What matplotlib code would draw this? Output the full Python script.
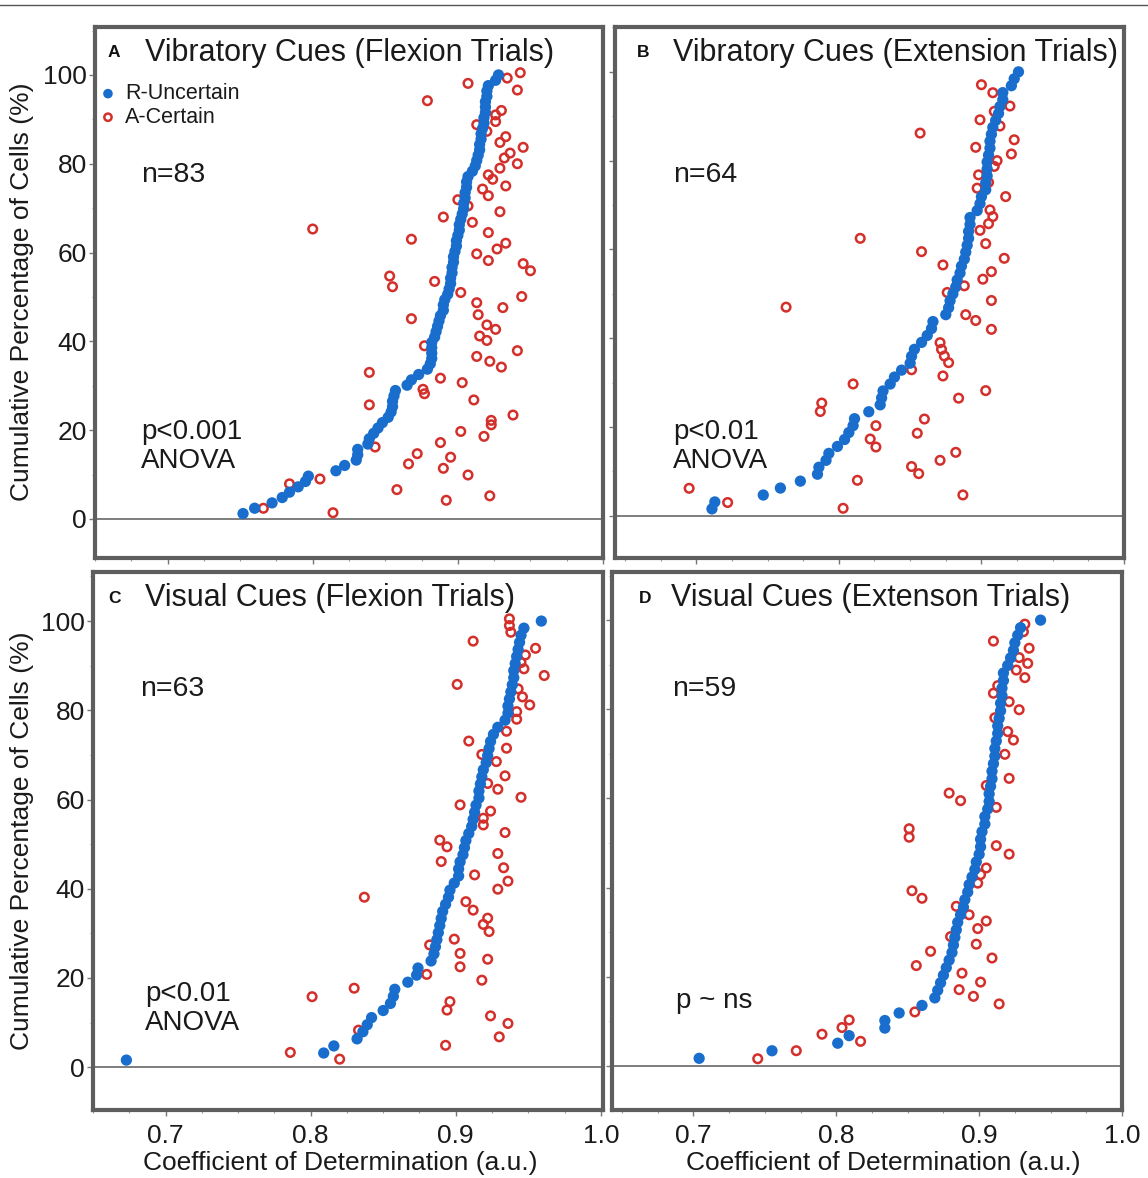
import numpy as np
import matplotlib
matplotlib.use("Agg")
import matplotlib.pyplot as plt
from matplotlib.lines import Line2D
from matplotlib.ticker import MultipleLocator

plt.rcParams['font.family'] = ['Liberation Sans', 'DejaVu Sans']

W, H = 1148, 1178
DPI = 100

BLUE = '#196ECD'
RED = '#D3302C'

# ---------------- data ----------------
# R-Uncertain (sorted coefficient values; cumulative percentage = rank / n)
a_blue = [0.752, 0.760, 0.772, 0.779, 0.784, 0.790, 0.795, 0.797, 0.816, 0.822,
          0.830, 0.831, 0.831, 0.838, 0.839, 0.842, 0.845, 0.848, 0.852, 0.854,
          0.855, 0.855, 0.856, 0.857, 0.865, 0.868, 0.873, 0.879, 0.881, 0.882,
          0.882, 0.882, 0.882, 0.884, 0.885, 0.886, 0.887, 0.888, 0.890, 0.890,
          0.891, 0.893, 0.894, 0.895, 0.895, 0.896, 0.896, 0.897, 0.897, 0.898,
          0.899, 0.899, 0.900, 0.901, 0.901, 0.902, 0.903, 0.904, 0.904, 0.905,
          0.905, 0.906, 0.906, 0.907, 0.910, 0.912, 0.913, 0.914, 0.915, 0.915,
          0.916, 0.916, 0.917, 0.918, 0.918, 0.919, 0.919, 0.919, 0.920, 0.920,
          0.921, 0.926, 0.928]
b_blue = [0.711, 0.713, 0.747, 0.759, 0.773, 0.785, 0.786, 0.791, 0.793, 0.799,
          0.804, 0.807, 0.810, 0.811, 0.821, 0.829, 0.830, 0.831, 0.836, 0.839,
          0.844, 0.850, 0.851, 0.853, 0.858, 0.862, 0.865, 0.866, 0.875, 0.877,
          0.878, 0.880, 0.882, 0.883, 0.885, 0.886, 0.888, 0.889, 0.890, 0.891,
          0.891, 0.892, 0.892, 0.897, 0.899, 0.900, 0.903, 0.903, 0.904, 0.904,
          0.904, 0.905, 0.906, 0.906, 0.907, 0.908, 0.910, 0.912, 0.913, 0.915,
          0.915, 0.921, 0.923, 0.926]
c_blue = [0.673, 0.809, 0.816, 0.832, 0.836, 0.839, 0.842, 0.850, 0.855, 0.857,
          0.858, 0.867, 0.873, 0.874, 0.883, 0.885, 0.886, 0.887, 0.888, 0.889,
          0.890, 0.891, 0.893, 0.895, 0.896, 0.899, 0.902, 0.902, 0.903, 0.905,
          0.906, 0.907, 0.909, 0.911, 0.912, 0.913, 0.914, 0.916, 0.916, 0.917,
          0.918, 0.919, 0.921, 0.922, 0.923, 0.924, 0.926, 0.929, 0.934, 0.936,
          0.936, 0.937, 0.938, 0.939, 0.940, 0.940, 0.941, 0.942, 0.943, 0.944,
          0.945, 0.947, 0.959]
d_blue = [0.704, 0.755, 0.801, 0.809, 0.834, 0.834, 0.844, 0.860, 0.869, 0.871,
          0.873, 0.875, 0.877, 0.879, 0.881, 0.882, 0.883, 0.884, 0.885, 0.887,
          0.889, 0.890, 0.892, 0.893, 0.895, 0.897, 0.898, 0.900, 0.901, 0.901,
          0.902, 0.904, 0.904, 0.906, 0.907, 0.907, 0.908, 0.909, 0.909, 0.910,
          0.911, 0.911, 0.912, 0.913, 0.913, 0.914, 0.915, 0.915, 0.916, 0.916,
          0.917, 0.917, 0.920, 0.922, 0.924, 0.925, 0.927, 0.929, 0.943]

# A-Certain (coefficient, cumulative percentage)
a_red = [(0.943, 100.5), (0.934, 99.3), (0.907, 98.1), (0.941, 96.6), (0.879, 94.2),
         (0.930, 92.0), (0.926, 91.0), (0.926, 89.5), (0.913, 88.8), (0.920, 87.3),
         (0.933, 86.1), (0.929, 84.8), (0.945, 83.7), (0.936, 82.4), (0.932, 81.3),
         (0.941, 80.0), (0.929, 79.0), (0.921, 77.5), (0.924, 76.5), (0.933, 75.0),
         (0.917, 74.3), (0.921, 72.8), (0.900, 71.9), (0.907, 70.5), (0.929, 69.2),
         (0.890, 68.0), (0.910, 66.8), (0.800, 65.3), (0.868, 63.0), (0.921, 64.5),
         (0.933, 62.1), (0.927, 60.8), (0.913, 59.7), (0.921, 58.2), (0.945, 57.5),
         (0.950, 55.9), (0.853, 54.7), (0.855, 52.3), (0.884, 53.5), (0.902, 51.0),
         (0.944, 50.1), (0.913, 48.7), (0.914, 46.0), (0.931, 47.6), (0.868, 45.1),
         (0.920, 43.7), (0.926, 42.7), (0.915, 41.2), (0.920, 40.2), (0.877, 39.0),
         (0.941, 37.9), (0.913, 36.6), (0.922, 35.5), (0.930, 34.2), (0.839, 33.0),
         (0.888, 31.7), (0.903, 30.7), (0.876, 29.2), (0.877, 28.2), (0.839, 25.7),
         (0.911, 26.8), (0.938, 23.4), (0.923, 22.2), (0.923, 21.2), (0.902, 19.7),
         (0.918, 18.6), (0.888, 17.2), (0.843, 16.2), (0.872, 14.7), (0.895, 13.9),
         (0.866, 12.4), (0.890, 11.4), (0.907, 9.9), (0.805, 9.0), (0.784, 7.9),
         (0.858, 6.6), (0.922, 5.2), (0.892, 4.2), (0.766, 2.4), (0.814, 1.4)]
b_red = [(0.900, 97.1), (0.908, 95.3), (0.920, 92.3), (0.909, 91.1), (0.899, 89.2),
         (0.913, 87.8), (0.857, 86.2), (0.923, 84.7), (0.896, 83.0), (0.921, 81.5),
         (0.911, 80.0), (0.909, 78.7), (0.898, 76.8), (0.905, 75.1), (0.897, 73.8),
         (0.917, 71.9), (0.906, 68.9), (0.908, 67.4), (0.905, 65.8), (0.899, 64.3),
         (0.903, 61.3), (0.815, 62.5), (0.858, 59.5), (0.916, 58.0), (0.873, 56.5),
         (0.907, 55.0), (0.901, 53.3), (0.888, 51.8), (0.876, 50.3), (0.907, 48.5),
         (0.763, 47.0), (0.889, 45.3), (0.896, 44.0), (0.907, 42.0), (0.871, 39.0),
         (0.872, 37.5), (0.874, 36.0), (0.877, 34.5), (0.851, 32.9), (0.873, 31.5),
         (0.810, 29.7), (0.903, 28.2), (0.884, 26.5), (0.788, 25.4), (0.787, 23.5),
         (0.860, 21.8), (0.826, 20.3), (0.855, 18.6), (0.822, 17.3), (0.826, 15.5),
         (0.882, 14.3), (0.871, 12.5), (0.851, 11.1), (0.856, 9.5), (0.813, 8.0),
         (0.695, 6.2), (0.887, 4.7), (0.722, 3.0), (0.803, 1.7)]
c_red = [(0.937, 100.5), (0.937, 99.0), (0.938, 97.5), (0.912, 95.5), (0.955, 93.9),
         (0.948, 92.4), (0.945, 90.7), (0.947, 89.3), (0.961, 87.8), (0.901, 85.8),
         (0.943, 84.8), (0.946, 83.0), (0.951, 81.2), (0.942, 79.7), (0.942, 78.0),
         (0.935, 75.3), (0.909, 73.1), (0.935, 71.5), (0.918, 70.1), (0.928, 68.5),
         (0.934, 65.3), (0.922, 63.6), (0.929, 62.3), (0.945, 60.5), (0.903, 58.8),
         (0.924, 57.4), (0.919, 55.8), (0.919, 54.3), (0.934, 52.6), (0.889, 50.9),
         (0.894, 49.4), (0.890, 46.1), (0.929, 47.9), (0.933, 44.7), (0.936, 41.7),
         (0.929, 39.9), (0.913, 43.1), (0.837, 38.1), (0.907, 37.1), (0.912, 35.2),
         (0.922, 33.4), (0.919, 32.0), (0.923, 30.4), (0.899, 28.7), (0.882, 27.4),
         (0.903, 25.5), (0.903, 22.5), (0.922, 24.2), (0.880, 20.8), (0.918, 19.5),
         (0.830, 17.7), (0.801, 15.8), (0.896, 14.7), (0.894, 12.8), (0.924, 11.5),
         (0.936, 9.8), (0.930, 6.8), (0.833, 8.3), (0.893, 4.9), (0.786, 3.3),
         (0.820, 1.8)]
d_red = [(0.932, 99.1), (0.931, 97.4), (0.910, 95.3), (0.935, 93.7), (0.928, 91.6),
         (0.934, 90.3), (0.926, 88.8), (0.932, 87.1), (0.913, 85.3), (0.910, 83.6),
         (0.921, 81.7), (0.928, 79.9), (0.911, 78.1), (0.920, 75.0), (0.924, 73.1),
         (0.918, 69.9), (0.921, 64.5), (0.905, 62.9), (0.879, 61.2), (0.887, 59.5),
         (0.912, 58.0), (0.851, 53.2), (0.851, 51.3), (0.912, 49.4), (0.921, 47.5),
         (0.905, 44.4), (0.901, 42.9), (0.899, 41.0), (0.853, 39.3), (0.860, 37.6),
         (0.884, 35.8), (0.893, 33.9), (0.905, 32.5), (0.899, 30.8), (0.880, 29.0),
         (0.898, 27.3), (0.909, 24.2), (0.866, 25.7), (0.856, 22.5), (0.888, 20.8),
         (0.901, 18.8), (0.886, 17.1), (0.896, 15.6), (0.914, 13.9), (0.855, 12.1),
         (0.809, 10.3), (0.804, 8.6), (0.790, 7.1), (0.817, 5.5), (0.772, 3.4),
         (0.745, 1.6)]

letters = ['A', 'B', 'C', 'D']
titles = ['Vibratory Cues (Flexion Trials)', 'Vibratory Cues (Extension Trials)',
          'Visual Cues (Flexion Trials)', 'Visual Cues (Extenson Trials)']
n_labels = ['n=83', 'n=64', 'n=63', 'n=59']
p_labels = ['p<0.001\nANOVA', 'p<0.01\nANOVA', 'p<0.01\nANOVA', 'p ~ ns']
series_names = ['R-Uncertain', 'A-Certain']
x_ticks = [0.7, 0.8, 0.9, 1.0]
x_tick_labels = ['0.7', '0.8', '0.9', '1.0']
y_ticks = [0, 20, 40, 60, 80, 100]
y_tick_labels = ['0', '20', '40', '60', '80', '100']
xlabel = 'Coefficient of Determination (a.u.)'
ylabel = 'Cumulative Percentage of Cells (%)'

blues = [a_blue, b_blue, c_blue, d_blue]
reds = [a_red, b_red, c_red, d_red]

# ---------------- layout (pixel boxes: left, top, right, bottom) ----------------
boxes = [(95, 27, 603, 558), (615, 27, 1124, 558),
         (93, 572, 603, 1110), (612, 572, 1122, 1110)]
xlims = [(0.650, 1.000), (0.643, 0.994), (0.650, 1.0015), (0.643, 0.9945)]
ylims = [(-8.8, 110.8), (-9.5, 110.1), (-9.6, 111.0), (-9.9, 110.8)]

# text anchors in pixels (x, baseline y)
letter_pos = [(108, 57), (637, 57), (108, 603), (639, 603)]
title_pos = [(145, 61), (673, 61), (145, 606), (671, 606)]
n_pos = [(141, 182), (673, 182), (140, 696), (672, 696)]
p_pos = [(141, 439), (673, 439), (145, 1001), (676, 1008)]

fig = plt.figure(figsize=(W / DPI, H / DPI), dpi=DPI)


def fx(px):
    return px / W


def fy(py):
    return 1 - py / H


TXT = '#1a1a1a'
axes = []
handles = None
for i in range(4):
    l, t, r, b = boxes[i]
    ax = fig.add_axes([fx(l), fy(b), (r - l) / W, (b - t) / H])
    axes.append(ax)
    bx = np.array(blues[i])
    n = len(bx)
    by = np.arange(1, n + 1) / n * 100.0
    rx = [p[0] for p in reds[i]]
    ry = [p[1] for p in reds[i]]
    ax.axhline(0, color='#7d7d7d', lw=1.4, zorder=1)
    hr = ax.scatter(rx, ry, s=38, facecolors='none', edgecolors=RED, linewidths=1.8,
                    zorder=2, label=series_names[1])
    hb = ax.scatter(bx, by, s=66, color=BLUE, edgecolors='none', zorder=3,
                    label=series_names[0])
    if i == 0:
        handles = [hb, hr]
    ax.set_xlim(*xlims[i])
    ax.set_ylim(*ylims[i])
    ax.set_xticks(x_ticks)
    ax.set_yticks(y_ticks)
    ax.xaxis.set_minor_locator(MultipleLocator(0.025))
    ax.yaxis.set_minor_locator(MultipleLocator(10))
    ax.set_xticklabels(x_tick_labels)
    ax.set_yticklabels(y_tick_labels)
    ax.tick_params(which='major', direction='out', length=4, width=1,
                   color='#777777', labelsize=19, labelcolor=TXT)
    ax.tick_params(which='minor', direction='out', length=2.5, width=0.8,
                   color='#999999')
    ax.tick_params(axis='x', which='major', pad=6)
    ax.tick_params(axis='y', which='major', pad=2)
    if i < 2:
        ax.tick_params(axis='x', labelbottom=False)
    if i % 2 == 1:
        ax.tick_params(axis='y', labelleft=False)
    for sp in ax.spines.values():
        sp.set_linewidth(3)
        sp.set_color('#5e5e5e')

    fig.text(fx(letter_pos[i][0]), fy(letter_pos[i][1]), letters[i],
             fontsize=12.5, fontweight='bold', color='#111111', va='baseline', ha='left')
    fig.text(fx(title_pos[i][0]), fy(title_pos[i][1]), titles[i],
             fontsize=22, color=TXT, va='baseline', ha='left')
    fig.text(fx(n_pos[i][0]), fy(n_pos[i][1]), n_labels[i],
             fontsize=20.5, color=TXT, va='baseline', ha='left')
    lines = p_labels[i].split('\n')
    for j, s in enumerate(lines):
        fig.text(fx(p_pos[i][0]), fy(p_pos[i][1] + 29 * j), s,
                 fontsize=20, color=TXT, va='baseline', ha='left')

# legend in panel A (R-Uncertain first)
leg = axes[0].legend(handles=handles, labels=series_names,
                     loc='upper left', bbox_to_anchor=(0.0128, 0.894),
                     frameon=False, fontsize=15.5, handlelength=0.6,
                     handletextpad=0.5, labelspacing=0.12, borderpad=0,
                     borderaxespad=0, markerscale=0.85)
for txt in leg.get_texts():
    txt.set_color(TXT)

# axis labels
for cx in (340, 883):
    fig.text(fx(cx), fy(1163), xlabel, fontsize=19, color=TXT, ha='center', va='center')
for cy in (292, 841):
    fig.text(fx(22), fy(cy), ylabel, fontsize=19, color=TXT, rotation=90,
             ha='center', va='center')

# top rule of the figure
fig.add_artist(Line2D([0, 1], [fy(5), fy(5)], transform=fig.transFigure,
                      color='#555555', lw=1))

fig.savefig('out.png', dpi=DPI)
